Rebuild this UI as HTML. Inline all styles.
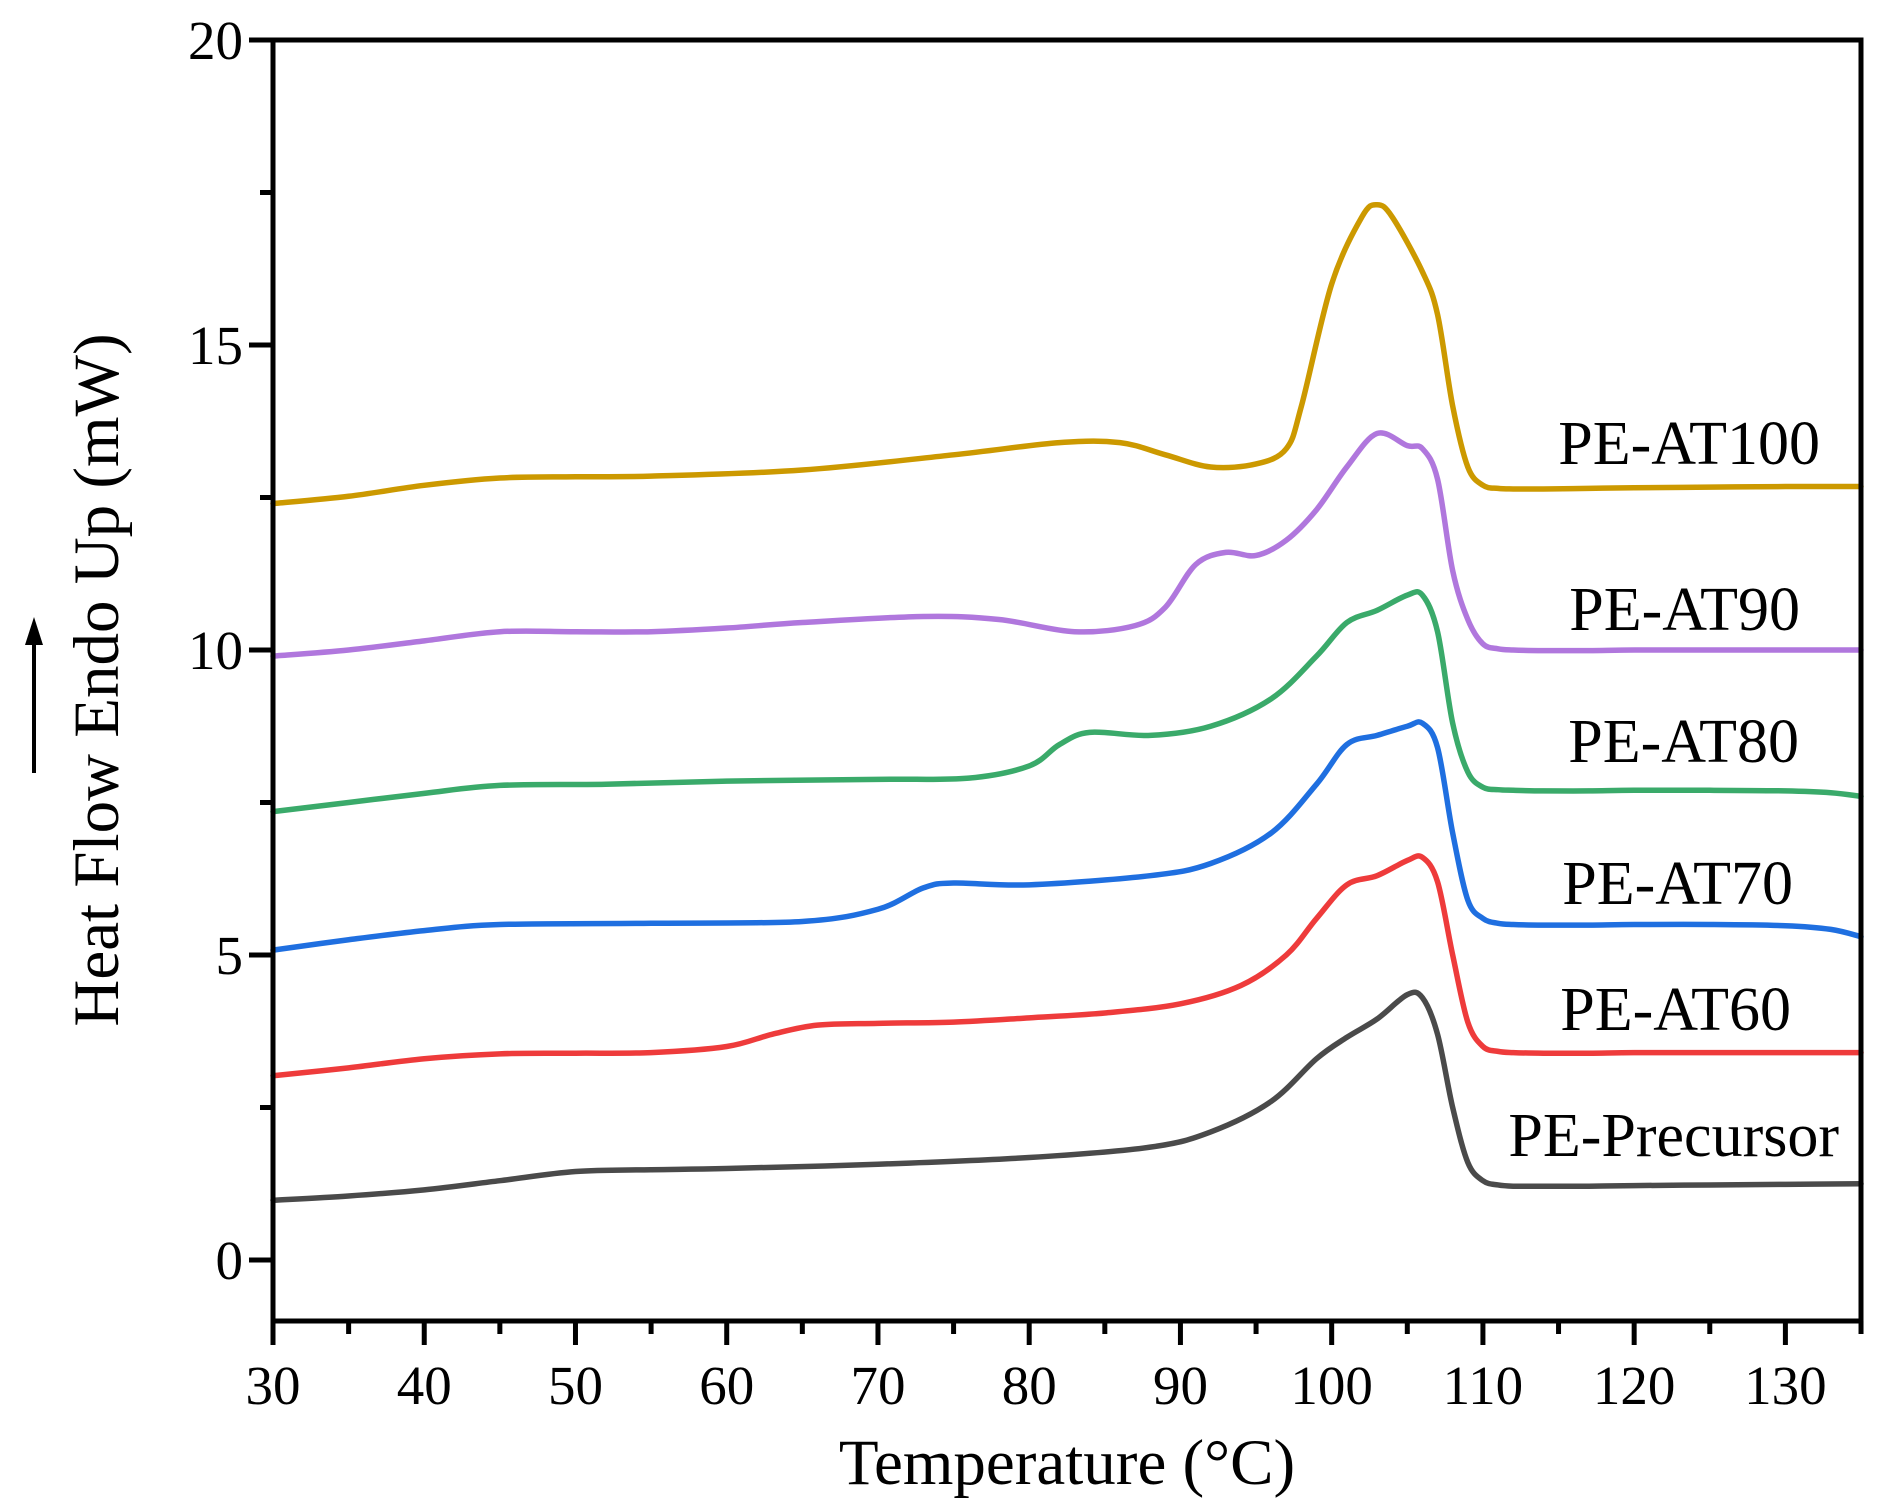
<!DOCTYPE html>
<html><head><meta charset="utf-8"><style>
html,body{margin:0;padding:0;background:#fff;}
svg{display:block;font-family:"Liberation Serif",serif;}
</style></head><body>
<svg id="s" width="1879" height="1511" viewBox="0 0 1879 1511" xmlns="http://www.w3.org/2000/svg">
<g id="curves" fill="none" stroke-width="5.5" stroke-linejoin="round" stroke-linecap="round"></g>
<g stroke="#000" stroke-width="5" fill="none">
<rect x="273" y="40" width="1588" height="1281"/>
</g>
<g id="ticks" stroke="#000" stroke-width="5"></g>
<g id="labels" font-size="55" fill="#000"></g>
<g font-size="62" fill="#000" text-anchor="end">
<text x="1820" y="464">PE-AT100</text>
<text x="1800" y="630">PE-AT90</text>
<text x="1799" y="762">PE-AT80</text>
<text x="1793" y="904">PE-AT70</text>
<text x="1791" y="1030">PE-AT60</text>
<text x="1839" y="1156">PE-Precursor</text>
</g>
<text x="1067" y="1484" font-size="65" text-anchor="middle">Temperature (°C)</text>
<text transform="translate(118,680) rotate(-90)" font-size="65" text-anchor="middle">Heat Flow Endo Up (mW)</text>
<line x1="34" y1="773" x2="34" y2="640" stroke="#000" stroke-width="4"/>
<polygon points="34,617 25,645 43,645" fill="#000"/>
</svg>
<script>
const X=t=>273+(t-30)*15.124, Y=v=>1260-v*61;
const series=[
["#4a4a4a",[[30,0.98],[35,1.05],[40,1.15],[45,1.3],[50,1.45],[55,1.48],[60,1.5],[70,1.57],[80,1.68],[88,1.85],[92,2.1],[96,2.6],[99,3.3],[101,3.65],[103,3.95],[105,4.35],[106,4.3],[107,3.7],[108,2.5],[109,1.6],[110,1.3],[111,1.23],[112,1.21],[114,1.21],[117,1.21],[120,1.22],[125,1.23],[130,1.24],[135,1.25]]],
["#ee3b3b",[[30,3.02],[35,3.15],[40,3.3],[45,3.38],[50,3.39],[55,3.4],[60,3.5],[63,3.7],[66,3.85],[70,3.88],[75,3.9],[80,3.97],[85,4.05],[90,4.2],[94,4.5],[97,5.0],[99,5.6],[101,6.15],[103,6.3],[105,6.55],[106,6.6],[107,6.2],[108,5.0],[109,3.9],[110,3.5],[111,3.42],[112,3.4],[114,3.39],[117,3.39],[120,3.4],[125,3.4],[130,3.4],[135,3.4]]],
["#1f6fe0",[[30,5.08],[35,5.25],[40,5.4],[45,5.5],[55,5.52],[65,5.55],[70,5.75],[73,6.1],[75,6.18],[80,6.15],[88,6.3],[92,6.5],[96,7.0],[99,7.8],[101,8.45],[103,8.6],[105,8.75],[106,8.8],[107,8.4],[108,7.0],[109,5.9],[110,5.6],[111,5.52],[112,5.5],[114,5.49],[117,5.49],[120,5.5],[125,5.5],[130,5.48],[133,5.42],[135,5.3]]],
["#3aaa6a",[[30,7.35],[35,7.5],[40,7.65],[45,7.78],[52,7.8],[60,7.85],[70,7.88],[76,7.9],[80,8.1],[82,8.45],[84,8.65],[88,8.6],[92,8.75],[96,9.2],[99,9.9],[101,10.45],[103,10.65],[105,10.9],[106,10.9],[107,10.3],[108,8.8],[109,8.0],[110,7.75],[111,7.71],[112,7.7],[114,7.69],[117,7.69],[120,7.7],[125,7.7],[130,7.69],[133,7.66],[135,7.6]]],
["#b077dd",[[30,9.9],[35,10.0],[40,10.15],[45,10.3],[50,10.3],[55,10.3],[60,10.36],[65,10.45],[73,10.55],[78,10.5],[83,10.3],[87,10.4],[89,10.7],[91,11.4],[93,11.6],[95,11.55],[97,11.8],[99,12.3],[101,13.0],[103,13.55],[105,13.35],[106,13.3],[107,12.8],[108,11.3],[109,10.5],[110,10.1],[111,10.02],[112,10.0],[114,9.99],[117,9.99],[120,10.0],[125,10.0],[130,10.0],[135,10.0]]],
["#cc9900",[[30,12.4],[35,12.52],[40,12.7],[45,12.82],[50,12.84],[55,12.85],[65,12.95],[75,13.2],[82,13.4],[86,13.4],[89,13.2],[92,13.0],[95,13.05],[97,13.3],[98,14.0],[100,16.0],[102,17.1],[103,17.3],[104,17.1],[106,16.2],[107,15.5],[108,14.0],[109,13.0],[110,12.7],[111,12.65],[112,12.64],[114,12.64],[117,12.65],[120,12.66],[125,12.67],[130,12.68],[135,12.68]]]];
const NS="http://www.w3.org/2000/svg";
const cg=document.getElementById("curves");
for(const [c,pts] of series){
 const p=pts.map(q=>[X(q[0]),Y(q[1])]);
 let d="M"+p[0][0]+","+p[0][1];
 for(let i=0;i<p.length-1;i++){
  const p0=p[Math.max(i-1,0)],p1=p[i],p2=p[i+1],p3=p[Math.min(i+2,p.length-1)];
  const c1=[p1[0]+(p2[0]-p0[0])/6,p1[1]+(p2[1]-p0[1])/6];
  const c2=[p2[0]-(p3[0]-p1[0])/6,p2[1]-(p3[1]-p1[1])/6];
  d+=`C${c1[0]},${c1[1]} ${c2[0]},${c2[1]} ${p2[0]},${p2[1]}`;
 }
 const e=document.createElementNS(NS,"path");e.setAttribute("d",d);e.setAttribute("stroke",c);cg.appendChild(e);
}
const tg=document.getElementById("ticks"),lg=document.getElementById("labels");
function ln(a,b,c,d){const e=document.createElementNS(NS,"line");e.setAttribute("x1",a);e.setAttribute("y1",b);e.setAttribute("x2",c);e.setAttribute("y2",d);tg.appendChild(e);}
function tx(x,y,s,a){const e=document.createElementNS(NS,"text");e.setAttribute("x",x);e.setAttribute("y",y);e.setAttribute("text-anchor",a);e.textContent=s;lg.appendChild(e);}
for(let t=30;t<=135;t+=5){const x=X(t);const maj=t%10==0;ln(x,1321,x,maj?1345:1334);if(maj)tx(x,1404,t,"middle");}
for(let v=0;v<=20;v+=2.5){const y=Y(v);const maj=v%5==0;ln(273,y,maj?249:260,y);if(maj)tx(243,y+19,v,"end");}
</script>
</body></html>
